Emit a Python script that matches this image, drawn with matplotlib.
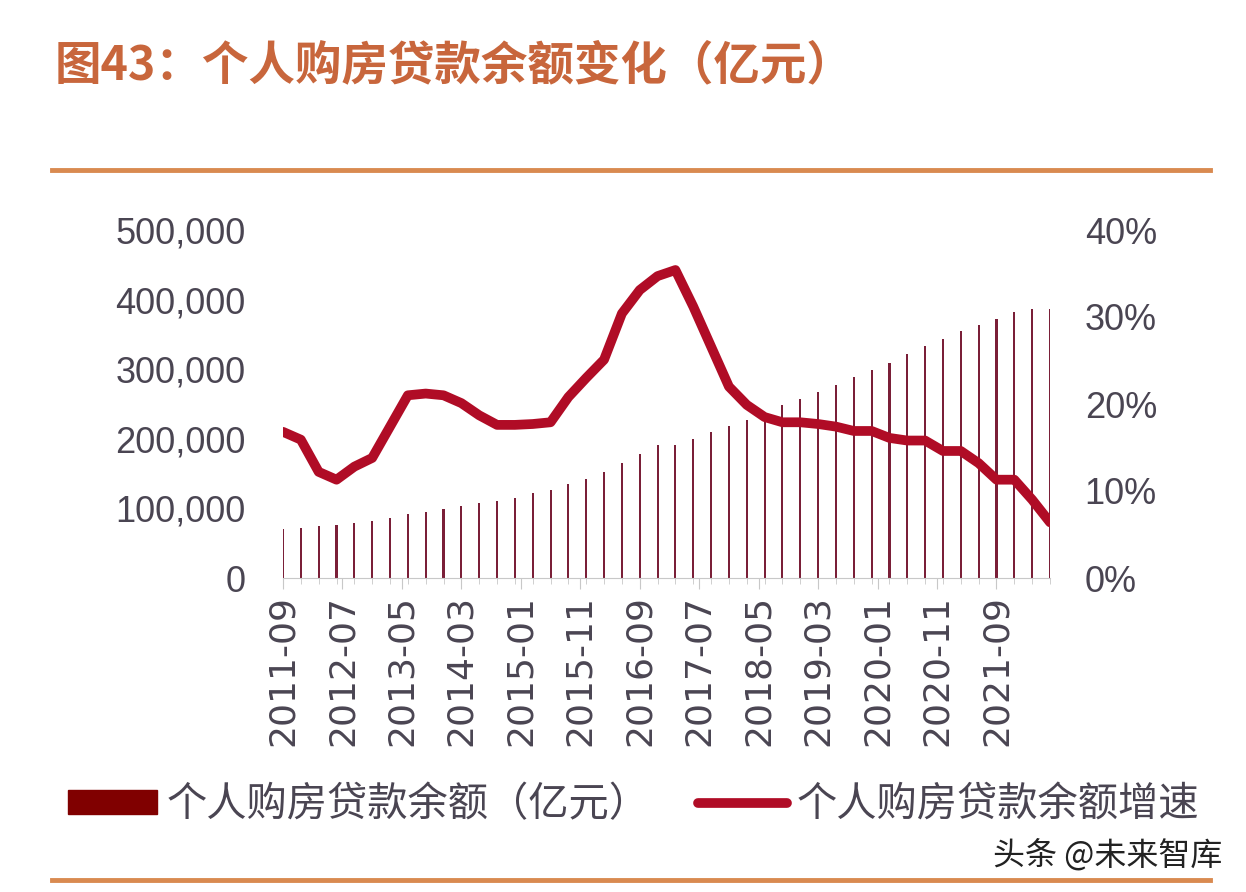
import numpy as np
import matplotlib.pyplot as plt
from matplotlib.lines import Line2D
from matplotlib.patches import Patch

plt.rcParams['font.family'] = ['Noto Sans CJK SC', 'DejaVu Sans']

# quarterly data 2011-09 .. 2022-06 (month offset from 2011-09)
months = list(range(0, 130, 3))
balance = [70000, 71800, 74300, 76100, 79500, 81900, 86700, 91500, 94800, 98700,
           103000, 107800, 111100, 114900, 121700, 126900, 134600, 141800, 151900, 164800,
           178200, 190700, 191000, 200200, 209800, 218000, 227500, 237500, 248100, 256700,
           267700, 277700, 288800, 298900, 309300, 321400, 333300, 343000, 355300, 364000,
           372100, 381700, 386100, 386500]
growth = [16.8, 15.9, 12.2, 11.3, 12.8, 13.8, 17.4, 21.0, 21.2, 21.0,
          20.1, 18.7, 17.6, 17.6, 17.7, 17.9, 20.8, 23.0, 25.1, 30.4,
          33.1, 34.7, 35.4, 31.2, 26.6, 22.0, 19.9, 18.5, 17.9, 17.9,
          17.7, 17.4, 16.9, 16.9, 16.1, 15.8, 15.8, 14.6, 14.6, 13.2,
          11.3, 11.3, 9.0, 6.4]
tick_months = list(range(0, 121, 10))
tick_labels = ['2011-09', '2012-07', '2013-05', '2014-03', '2015-01', '2015-11', '2016-09',
               '2017-07', '2018-05', '2019-03', '2020-01', '2020-11', '2021-09']

title = '图43：个人购房贷款余额变化（亿元）'
bar_name = '个人购房贷款余额（亿元）'
line_name = '个人购房贷款余额增速'

txt_color = '#4a4552'
bar_color = '#7a1f38'
line_color = '#b00c26'
orange = '#d98a50'
num_font = ['Liberation Sans', 'DejaVu Sans']

fig = plt.figure(figsize=(12.46, 8.92), dpi=100)
ax = fig.add_axes([283 / 1246, 1 - 578 / 892, (1050 - 283) / 1246, 348 / 892])
ax2 = ax.twinx()

ax.bar(months, balance, width=0.35, color=bar_color, zorder=2)
ax2.plot(months, growth, color=line_color, lw=7, solid_capstyle='round',
         solid_joinstyle='round', zorder=3)

ax.set_xlim(0, 129)
ax.set_ylim(0, 500000)
ax2.set_ylim(0, 40)
ax.set_yticks(range(0, 500001, 100000))
ax.set_yticklabels([f'{v:,}' for v in range(0, 500001, 100000)],
                   fontsize=26, color=txt_color, family=num_font)
ax2.set_yticks(range(0, 41, 10))
ax2.set_yticklabels([f'{v}%' for v in range(0, 41, 10)],
                    fontsize=26, color=txt_color, family=num_font)
ax.set_xticks(tick_months)
ax.set_xticklabels(tick_labels, rotation=90, fontsize=26, color=txt_color,
                   family=['DejaVu Sans'])
ax.set_xticks(months, minor=True)

for a in (ax, ax2):
    for s in ('top', 'left', 'right'):
        a.spines[s].set_visible(False)
    a.spines['bottom'].set_color('#c8c8c8')
ax2.spines['bottom'].set_visible(False)
ax.tick_params(axis='y', length=0, pad=27)
ax2.tick_params(axis='y', length=0, pad=25)
ax.tick_params(axis='x', which='major', length=8, color='#c8c8c8', pad=4)
ax.tick_params(axis='x', which='minor', length=4, color='#c8c8c8')
ax.set_zorder(ax2.get_zorder() - 1)
ax.patch.set_visible(False)
ax2.patch.set_visible(False)

fig.text(55 / 1246, 1 - 65 / 892, title, fontsize=33.5, fontweight='bold',
         color='#c8663c', va='center', ha='left')
fig.add_artist(Line2D([52 / 1246, 1210 / 1246], [1 - 170 / 892] * 2, color=orange, lw=3.5))
fig.add_artist(Line2D([52 / 1246, 1210 / 1246], [1 - 880 / 892] * 2, color=orange, lw=3.5))

handles = [Patch(color='#800000'), Line2D([], [], color=line_color, lw=7, solid_capstyle='round')]
fig.legend(handles, [bar_name, line_name], loc='center', bbox_to_anchor=(0.5085, 1 - 805 / 892),
           ncol=2, frameon=False, fontsize=29, handlelength=2.2, handleheight=0.55,
           handletextpad=0.25, columnspacing=1.2, labelcolor=txt_color)

fig.text(1222 / 1246, 1 - 855 / 892, '头条 @未来智库', fontsize=23, color='#222222',
         ha='right', va='center')

fig.savefig('out.png', dpi=100)
